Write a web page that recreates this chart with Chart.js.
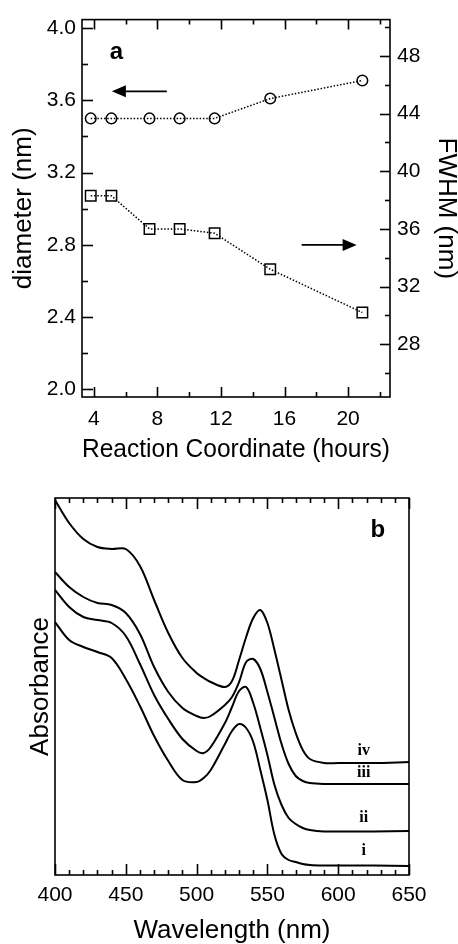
<!DOCTYPE html>
<html>
<head>
<meta charset="utf-8">
<script src="https://cdn.jsdelivr.net/npm/chart.js@4.4.1/dist/chart.umd.min.js"></script>
<style>
  html, body { margin: 0; padding: 0; background: #fff; }
  #wrap { position: relative; width: 458px; height: 944px; }
  .box { position: absolute; left: 0; width: 458px; }
  #boxA { top: 0; height: 470px; }
  #boxB { top: 470px; height: 474px; }
</style>
</head>
<body>
<div id="wrap">
  <div class="box" id="boxA"><canvas id="chartA" width="458" height="470"></canvas></div>
  <div class="box" id="boxB"><canvas id="chartB" width="458" height="474"></canvas></div>
</div>
<script>
"use strict";

// panel a: size and linewidth vs reaction time
var hours = [3.8, 5.1, 7.5, 9.4, 11.6, 15.1, 20.9];
var diameter = [3.50, 3.50, 3.50, 3.50, 3.50, 3.61, 3.71];
var fwhm = [38.3, 38.3, 36.0, 36.0, 35.7, 33.2, 30.2];

var hourTicks = [4, 8, 12, 16, 20];
var hourMinor = [6, 10, 14, 18, 22];
var diamTicks = [2.0, 2.4, 2.8, 3.2, 3.6, 4.0];
var diamMinor = [2.2, 2.6, 3.0, 3.4, 3.8];
var fwhmTicks = [28, 32, 36, 40, 44, 48];
var fwhmMinor = [26, 30, 34, 38, 42, 46, 50];

// panel b: absorption spectra (arbitrary units)
var wavelength = [400, 410, 420, 430, 440, 450, 460, 470, 480, 490, 500, 505, 510, 520, 525,
                  530, 535, 540, 545, 550, 555, 560, 565, 570, 575, 580, 590, 600, 625, 650];
var specI   = [2.53, 2.35, 2.28, 2.23, 2.17, 1.96, 1.69, 1.39, 1.14, 0.95, 0.93, 0.97, 1.05, 1.31, 1.44,
               1.51, 1.47, 1.33, 1.05, 0.75, 0.40, 0.21, 0.15, 0.13, 0.11, 0.10, 0.095, 0.095, 0.095, 0.09];
var specII  = [2.85, 2.68, 2.58, 2.55, 2.52, 2.39, 2.11, 1.80, 1.56, 1.36, 1.24, 1.22, 1.28, 1.52, 1.68,
               1.84, 1.88, 1.72, 1.47, 1.20, 0.90, 0.70, 0.57, 0.51, 0.47, 0.45, 0.435, 0.435, 0.435, 0.44];
var specIII = [3.03, 2.88, 2.78, 2.72, 2.70, 2.62, 2.41, 2.08, 1.83, 1.67, 1.59, 1.57, 1.59, 1.70, 1.78,
               1.93, 2.13, 2.16, 2.06, 1.83, 1.57, 1.31, 1.11, 0.99, 0.94, 0.92, 0.91, 0.91, 0.91, 0.91];
var specIV  = [3.75, 3.52, 3.36, 3.28, 3.26, 3.26, 3.09, 2.75, 2.42, 2.17, 2.02, 1.97, 1.93, 1.88, 1.94,
               2.15, 2.38, 2.57, 2.65, 2.52, 2.25, 1.95, 1.65, 1.42, 1.25, 1.16, 1.12, 1.12, 1.12, 1.13];
var curveNames = ["i", "ii", "iii", "iv"];
var curveLabelY = [0.20, 0.53, 0.98, 1.20];

var waveTicks = [400, 450, 500, 550, 600, 650];
var waveMinor = [410, 420, 430, 440, 460, 470, 480, 490, 510, 520, 530, 540,
                 560, 570, 580, 590, 610, 620, 630, 640];

Chart.defaults.font.family = "'Liberation Sans', Arial, Helvetica, sans-serif";
Chart.defaults.color = "#000";

function xy(xs, ys) {
    return xs.map(function (x, i) { return { x: x, y: ys[i] }; });
}
function setTicks(list) {
    return function (scale) { scale.ticks = list.map(function (v) { return { value: v }; }); };
}

// frame, inward tick marks, text labels and arrows (all placed through the scales)
function decor(marks, texts, arrows) {
    return {
        id: "decor",
        afterDraw: function (chart) {
            var ctx = chart.ctx, a = chart.chartArea;
            ctx.save();
            ctx.setLineDash([]);
            ctx.strokeStyle = "#000";
            ctx.fillStyle = "#000";
            ctx.lineWidth = 1.6;
            ctx.strokeRect(a.left, a.top, a.right - a.left, a.bottom - a.top);
            marks.forEach(function (m) {
                var sc = chart.scales[m.axis];
                m.values.forEach(function (v) {
                    var p = Math.round(sc.getPixelForValue(v)) + 0.5;
                    ctx.beginPath();
                    if (m.side === "x") {
                        ctx.moveTo(p, a.bottom); ctx.lineTo(p, a.bottom - m.len);
                        ctx.moveTo(p, a.top); ctx.lineTo(p, a.top + m.len);
                    } else if (m.side === "left") {
                        ctx.moveTo(a.left, p); ctx.lineTo(a.left + m.len, p);
                    } else {
                        ctx.moveTo(a.right, p); ctx.lineTo(a.right - m.len, p);
                    }
                    ctx.stroke();
                });
            });
            texts.forEach(function (t) {
                var x = chart.scales[t.xs].getPixelForValue(t.x);
                var y = chart.scales[t.ys].getPixelForValue(t.y);
                ctx.font = t.font;
                ctx.textAlign = "center";
                ctx.textBaseline = "alphabetic";
                ctx.fillText(t.text, x, y);
            });
            arrows.forEach(function (ar) {
                var x0 = chart.scales[ar.xs].getPixelForValue(ar.from);
                var x1 = chart.scales[ar.xs].getPixelForValue(ar.to);
                var y = chart.scales[ar.ys].getPixelForValue(ar.y);
                var dir = x1 > x0 ? 1 : -1;
                ctx.lineWidth = 1.8;
                ctx.beginPath();
                ctx.moveTo(x0, y);
                ctx.lineTo(x1 - dir * 12, y);
                ctx.stroke();
                ctx.beginPath();
                ctx.moveTo(x1, y);
                ctx.lineTo(x1 - dir * 14, y - 6);
                ctx.lineTo(x1 - dir * 14, y + 6);
                ctx.closePath();
                ctx.fill();
            });
            ctx.restore();
        }
    };
}

var dotted = { borderColor: "#000", borderWidth: 1.5, borderDash: [1.5, 1.8],
               pointBorderColor: "#000", pointBackgroundColor: "rgba(0,0,0,0)",
               pointBorderWidth: 1.5, tension: 0 };

new Chart(document.getElementById("chartA"), {
    type: "line",
    data: {
        datasets: [
            Object.assign({ label: "diameter", data: xy(hours, diameter), yAxisID: "y",
                            pointStyle: "circle", pointRadius: 5.3 }, dotted),
            Object.assign({ label: "FWHM", data: xy(hours, fwhm), yAxisID: "y2",
                            pointStyle: "rect", pointRadius: 7.4 }, dotted)
        ]
    },
    options: {
        responsive: false,
        animation: false,
        layout: { padding: { top: 13 } },
        plugins: {
            legend: { display: false },
            tooltip: { enabled: false }
        },
        scales: {
            x: {
                type: "linear", position: "bottom", min: 3.25, max: 22.64,
                grid: { display: false, drawTicks: false }, border: { display: false },
                afterBuildTicks: setTicks(hourTicks),
                afterFit: function (s) { s.height = 73; },
                ticks: { padding: 10, font: { size: 21 } },
                title: { display: true, text: "Reaction Coordinate (hours)",
                         font: { size: 26 }, padding: { top: 0, bottom: 5 } }
            },
            y: {
                type: "linear", position: "left", min: 1.958, max: 4.047,
                grid: { display: false, drawTicks: false }, border: { display: false },
                afterBuildTicks: setTicks(diamTicks),
                afterFit: function (s) { s.width = 82; },
                ticks: { padding: 6, font: { size: 21 },
                         callback: function (v) { return v.toFixed(1); } },
                title: { display: true, text: "diameter (nm)",
                         font: { size: 26 }, padding: { top: 8, bottom: 0 } }
            },
            y2: {
                type: "linear", position: "right", min: 24.34, max: 50.52,
                grid: { display: false, drawTicks: false }, border: { display: false },
                afterBuildTicks: setTicks(fwhmTicks),
                afterFit: function (s) { s.width = 68; },
                ticks: { padding: 7, font: { size: 21 } },
                title: { display: true, text: "FWHM (nm)",
                         font: { size: 26, lineHeight: 1 }, padding: { top: -1.5, bottom: 0 } }
            }
        }
    },
    plugins: [
        decor(
            [{ axis: "x", values: hourTicks, side: "x", len: 10 },
             { axis: "x", values: hourMinor, side: "x", len: 5 },
             { axis: "y", values: diamTicks, side: "left", len: 11 },
             { axis: "y", values: diamMinor, side: "left", len: 6 },
             { axis: "y2", values: fwhmTicks, side: "right", len: 10 },
             { axis: "y2", values: fwhmMinor, side: "right", len: 5 }],
            [{ text: "a", x: 5.42, y: 3.83, xs: "x", ys: "y",
               font: "bold 24px 'Liberation Sans', Arial, sans-serif" }],
            [{ xs: "x", ys: "y", from: 8.59, to: 5.13, y: 3.65 },
             { xs: "x", ys: "y2", from: 17.08, to: 20.54, y: 34.89 }]
        )
    ]
});

var spectra = [specI, specII, specIII, specIV];

new Chart(document.getElementById("chartB"), {
    type: "line",
    data: {
        datasets: spectra.map(function (s, i) {
            return { label: curveNames[i], data: xy(wavelength, s),
                     borderColor: "#000", borderWidth: 2, pointRadius: 0,
                     tension: 0.35 };
        })
    },
    options: {
        responsive: false,
        animation: false,
        layout: { padding: { top: 28, right: 49 } },
        plugins: {
            legend: { display: false },
            tooltip: { enabled: false }
        },
        scales: {
            x: {
                type: "linear", position: "bottom", min: 400, max: 650,
                grid: { display: false, drawTicks: false }, border: { display: false },
                afterBuildTicks: setTicks(waveTicks),
                afterFit: function (s) { s.height = 69; },
                ticks: { padding: 8, font: { size: 21 } },
                title: { display: true, text: "Wavelength (nm)",
                         font: { size: 26, lineHeight: 1 }, padding: { top: 0, bottom: 0 } }
            },
            y: {
                type: "linear", position: "left", min: 0, max: 3.77,
                grid: { display: false, drawTicks: false }, border: { display: false },
                ticks: { display: false },
                afterFit: function (s) { s.width = 55; },
                title: { display: true, text: "Absorbance",
                         font: { size: 26 }, padding: { top: 25, bottom: 0 } }
            }
        }
    },
    plugins: [
        decor(
            [{ axis: "x", values: waveTicks, side: "x", len: 11 },
             { axis: "x", values: waveMinor, side: "x", len: 5 }],
            curveNames.map(function (n, i) {
                return { text: n, x: 618, y: curveLabelY[i], xs: "x", ys: "y",
                         font: "bold 16px 'Liberation Serif', 'Times New Roman', serif" };
            }).concat([{ text: "b", x: 627.9, y: 3.38, xs: "x", ys: "y",
                         font: "bold 24px 'Liberation Sans', Arial, sans-serif" }]),
            []
        )
    ]
});
</script>
</body>
</html>
